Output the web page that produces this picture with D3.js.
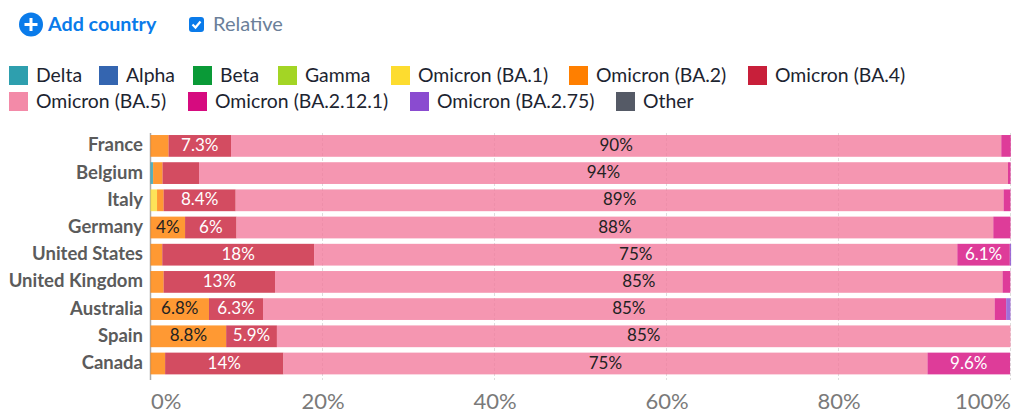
<!DOCTYPE html>
<html>
<head>
<meta charset="utf-8">
<script src="https://cdn.jsdelivr.net/npm/d3@7"></script>
<style>
html,body{margin:0;padding:0;background:#fff;overflow:hidden;}
svg{display:block;font-family:Lato,sans-serif;}
</style>
</head>
<body>
<div id="chart"></div>
<script>
const countries = ["France","Belgium","Italy","Germany","United States","United Kingdom","Australia","Spain","Canada"];
const variants = ["Delta","Alpha","Beta","Gamma","Omicron (BA.1)","Omicron (BA.2)","Omicron (BA.4)","Omicron (BA.5)","Omicron (BA.2.12.1)","Omicron (BA.2.75)","Other"];
const colors = ["#2e9fae","#3465b0","#0a9a37","#a3d525","#fddc2f","#ff7f00","#c81f3a","#f38aa8","#d60b7f","#8a4bd0","#555a66"];
const ba5BarColor = "#f27c9e"; // bars are drawn see-through, this one needs more depth

// one row per country, same order as variants
const delta   = [0,0.3,0,0,0,0,0,0,0];
const ba1     = [0,0,0.76,0,0,0,0,0,0];
const ba2     = [2.1,1.1,0.77,4.02,1.37,1.53,6.8,8.8,1.7];
const ba4     = [7.26,4.24,8.37,5.98,17.65,12.95,6.28,5.9,13.75];
const ba5     = [89.57,94.07,89.3,88,74.8,84.6,85.08,85.3,74.9];
const ba2121  = [1.1,0.3,0.8,2,6.1,0.9,1.34,0,9.6];
const ba275   = [0,0,0,0,0.15,0,0.5,0,0];
const series  = [delta,null,null,null,ba1,ba2,ba4,ba5,ba2121,ba275,null];
const xTicks  = [0,20,40,60,80,100];

const width = 1013, height = 414;
let svg = d3.select("#chart").append("svg")
    .attr("width",width)
    .attr("height",height);

// controls row
let add = svg.append("g").attr("transform","translate(31,24.5)");
add.append("circle").attr("r",12).attr("fill","#0a7bea");
add.append("path").attr("d","M-6.5,0H6.5M0,-6.5V6.5").attr("stroke","#fff").attr("stroke-width",3);
svg.append("text").attr("x",48).attr("y",31).attr("font-size",19.7).attr("font-weight",700)
    .attr("fill","#0a7bea").text("Add country");

let check = svg.append("g").attr("transform","translate(189,17)");
check.append("rect").attr("width",15).attr("height",15).attr("rx",3).attr("fill","#0a7bea");
check.append("path").attr("d","M3.5,7.5L6.5,10.5L11.5,4.5").attr("fill","none").attr("stroke","#fff").attr("stroke-width",2.2);
svg.append("text").attr("x",213).attr("y",31).attr("font-size",20).attr("fill","#6b7f99").text("Relative");

// legend
const legendX = [9,99,193,278,391,569,748,9,188,410,616];
const legendY = [66,66,66,66,66,66,66,92,92,92,92];
let legend = svg.append("g").selectAll("g")
    .data(variants)
    .join("g")
        .attr("transform",(d,i)=>`translate(${legendX[i]},${legendY[i]})`);
legend.append("rect")
    .attr("width",19).attr("height",19)
    .attr("fill",(d,i)=>colors[i]);
legend.append("text")
    .attr("x",27).attr("y",15.5)
    .attr("font-size",19.4).attr("fill","#1d2430")
    .text(d=>d);

// chart
let x = d3.scaleLinear().domain([0,100]).range([150.5,1010.5]);
let y = d3.scaleBand().domain(countries).range([132.3,377.1]).paddingInner(0.2).paddingOuter(0.1);

let xAxis = d3.axisBottom(x).tickValues(xTicks).tickFormat(d=>d+"%").tickSize(0).tickPadding(0);
svg.append("g")
    .attr("transform","translate(0,408.5)")
    .call(xAxis)
    .call(g=>g.select(".domain").remove())
    .selectAll("text")
        .attr("y",0)
        .attr("dy",0)
        .attr("font-family","Lato,sans-serif")
        .attr("font-size",22)
        .attr("fill","#7a7a7a")
        .attr("text-anchor",d=>d===100?"end":(d===0?"start":"middle"));

svg.append("g").selectAll("line")
    .data(xTicks)
    .join("line")
        .attr("x1",d=>x(d)).attr("x2",d=>x(d))
        .attr("y1",133).attr("y2",380)
        .attr("stroke",d=>d===0?"#aaa":"#ddd")
        .attr("stroke-width",d=>d===0?1.5:1)
        .attr("stroke-dasharray",d=>d===0?null:"3,2");

let rows = svg.append("g").selectAll("g")
    .data(countries)
    .join("g")
        .attr("transform",d=>`translate(0,${y(d)})`);

rows.each(function(country,r){
    let row = d3.select(this);
    let acc = 0;
    series.forEach((s,i)=>{
        if(!s || !s[r]) return;
        let v = s[r];
        let barW = x(acc+v)-x(acc);
        row.append("rect")
            .attr("x",x(acc))
            .attr("y",0)
            .attr("width",barW)
            .attr("height",y.bandwidth())
            .attr("fill",i===7?ba5BarColor:colors[i])
            .attr("fill-opacity",0.8);
        let dark = i===5 || i===7;
        let label = row.append("text")
            .attr("x",x(acc+v/2))
            .attr("y",y.bandwidth()/2+5)
            .attr("text-anchor","middle")
            .attr("font-size",17)
            .attr("fill",dark?"#222":"#fff")
            .text(d3.format(".2~r")(v)+"%");
        // labels only where they fit in the segment
        if(label.node().getComputedTextLength()+4 > barW) label.remove();
        acc += v;
    });
});

svg.append("g").selectAll("text")
    .data(countries)
    .join("text")
        .attr("x",143)
        .attr("y",d=>y(d)+y.bandwidth()/2+5.5)
        .attr("text-anchor","end")
        .attr("font-size",18.5)
        .attr("font-weight",700)
        .attr("fill","#5b5b5b")
        .text(d=>d);
</script>
</body>
</html>
